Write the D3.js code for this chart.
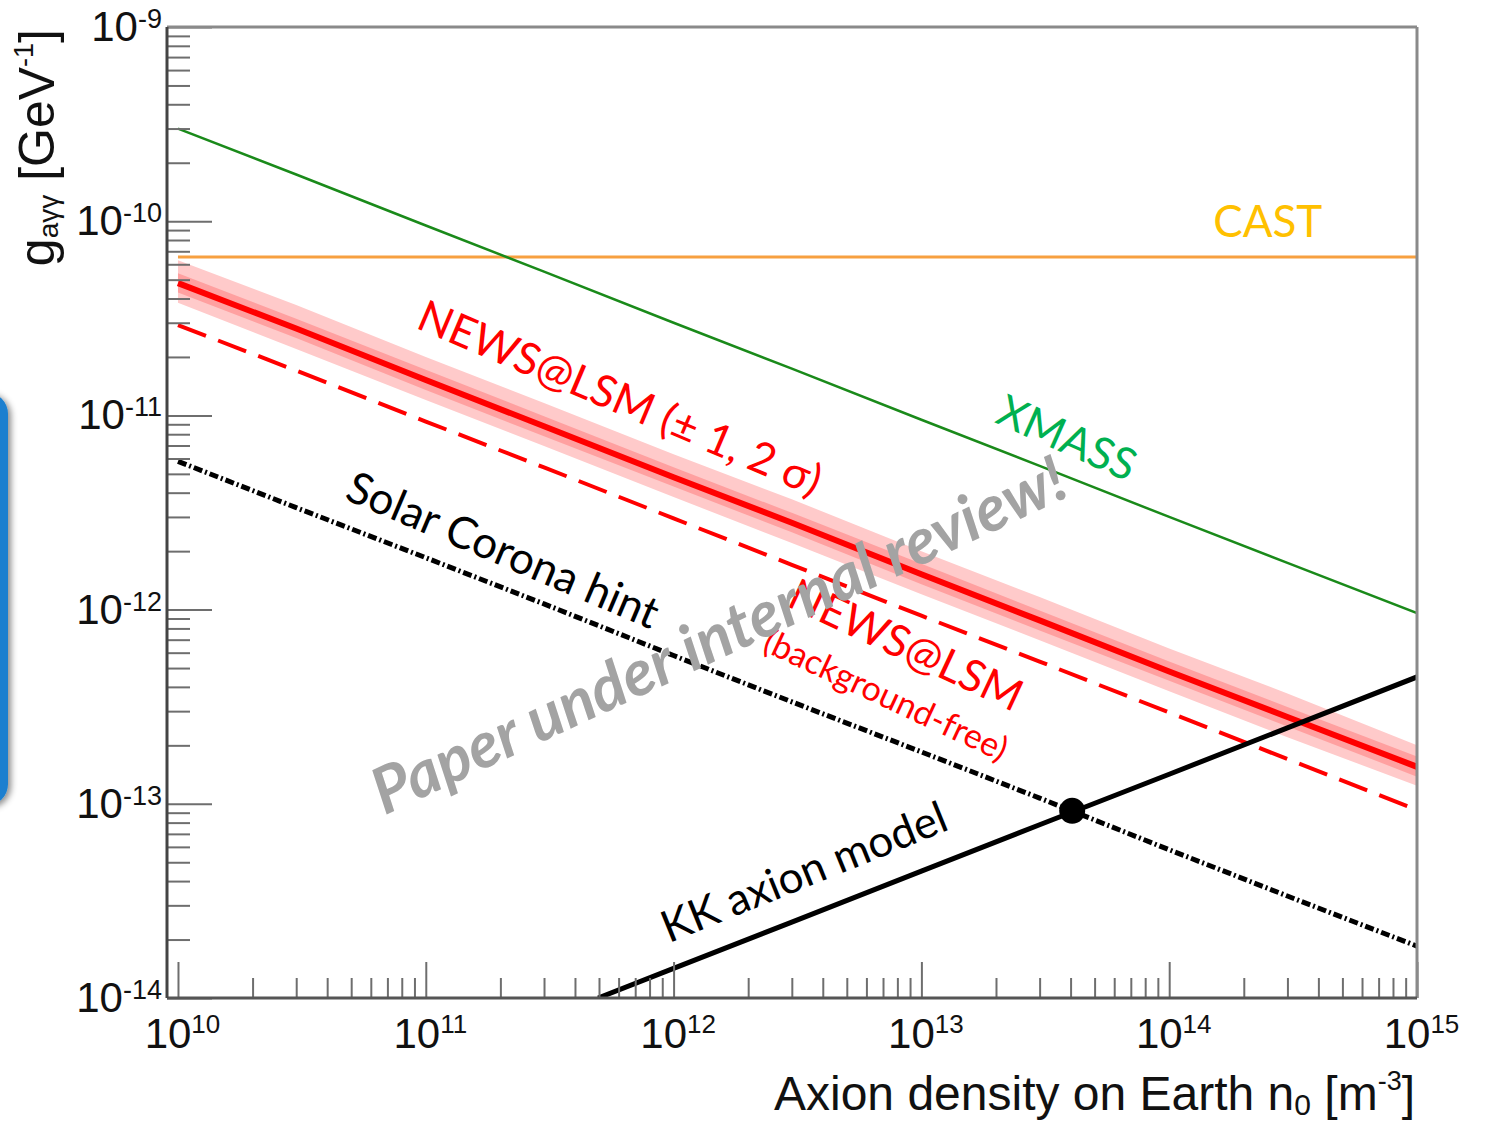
<!DOCTYPE html>
<html>
<head>
<meta charset="utf-8">
<script src="https://cdn.jsdelivr.net/npm/d3@7"></script>
<style>
  html, body { margin: 0; padding: 0; background: #fff; }
  svg { display: block; }
</style>
</head>
<body>
<div id="chart"></div>
<script>
// Axion density on Earth n0 [m^-3] at which the curves are sampled
const density = [1e10, 3e10, 1e11, 3e11, 1e12, 3e12, 1e13, 3e13, 1e14, 3e14, 1e15];

// g_agg limits [GeV^-1]
const xmass        = [3.0e-10, 1.74e-10, 9.5e-11, 5.5e-11, 3.0e-11, 1.74e-11, 9.5e-12, 5.5e-12, 3.0e-12, 1.74e-12, 9.6e-13];
const newsMedian   = [4.8e-11, 2.8e-11, 1.52e-11, 8.8e-12, 4.8e-12, 2.8e-12, 1.52e-12, 8.8e-13, 4.8e-13, 2.8e-13, 1.55e-13];
const news1sUp     = [5.4e-11, 3.15e-11, 1.72e-11, 9.9e-12, 5.4e-12, 3.15e-12, 1.72e-12, 9.9e-13, 5.4e-13, 3.15e-13, 1.75e-13];
const news1sDown   = [4.3e-11, 2.5e-11, 1.35e-11, 7.8e-12, 4.3e-12, 2.5e-12, 1.35e-12, 7.8e-13, 4.3e-13, 2.5e-13, 1.38e-13];
const news2sUp     = [6.3e-11, 3.7e-11, 2.0e-11, 1.16e-11, 6.3e-12, 3.7e-12, 2.0e-12, 1.16e-12, 6.3e-13, 3.7e-13, 2.0e-13];
const news2sDown   = [3.8e-11, 2.2e-11, 1.2e-11, 6.95e-12, 3.8e-12, 2.2e-12, 1.2e-12, 6.95e-13, 3.8e-13, 2.2e-13, 1.24e-13];
const newsBkgFree  = [2.92e-11, 1.7e-11, 9.3e-12, 5.4e-12, 2.95e-12, 1.7e-12, 9.3e-13, 5.4e-13, 2.95e-13, 1.7e-13, 9.3e-14];
const solarCorona  = [5.8e-12, 3.35e-12, 1.85e-12, 1.07e-12, 5.8e-13, 3.35e-13, 1.85e-13, 1.07e-13, 5.8e-14, 3.35e-14, 1.85e-14];
const castLimit    = [[1e10, 6.55e-11], [1e15, 6.55e-11]];

// KK axion model, starts where it leaves the bottom of the frame
const kkDensity = [4.96e11, 1e12, 3e12, 1e13, 3e13, 1e14, 3e14, 1e15];
const kkModel   = [1.0e-14, 1.42e-14, 2.46e-14, 4.5e-14, 7.8e-14, 1.42e-13, 2.46e-13, 4.5e-13];
const kkPoint   = [4.06e13, 9.2e-14];

const xTickExponents = [10, 11, 12, 13, 14, 15];
const yTickExponents = [-14, -13, -12, -11, -10, -9];

// labels placed in data coordinates (n0, g)
const annotations = [
  { text: 'CAST', n: 2.5e14, g: 1.0e-10, angle: 0, color: '#ffc000', size: 44 },
  { text: 'XMASS', n: 3.87e13, g: 7.66e-12, angle: 24, color: '#00b050', size: 44 },
  { text: 'NEWS@LSM (± 1, 2 σ)', n: 6.08e11, g: 1.23e-11, angle: 23, color: '#ff0000', size: 44 },
  { text: 'Solar Corona hint', n: 2.05e11, g: 2.03e-12, angle: 23, color: '#000000', size: 44 },
  { text: 'NEWS@LSM', n: 8.67e12, g: 6.58e-13, angle: 25, color: '#ff0000', size: 44 },
  { text: '(background-free)', n: 7.19e12, g: 3.63e-13, angle: 25, color: '#ff0000', size: 34 },
  { text: 'KK axion model', n: 3.36e12, g: 4.46e-14, angle: -22, color: '#000000', size: 44 }
];
const watermark = { text: 'Paper under internal review!', n: 1.52e12, g: 7.4e-13, angle: -25 };

const W = 1491, H = 1121;
const frame = { left: 167, right: 1417, top: 27, bottom: 998 };

const svg = d3.select('#chart').append('svg')
  .attr('width', W).attr('height', H);

const defs = svg.append('defs');
const shadow = defs.append('filter').attr('id', 'shadow')
  .attr('x', '-50%').attr('y', '-20%').attr('width', '200%').attr('height', '140%');
shadow.append('feDropShadow')
  .attr('dx', 3).attr('dy', 2).attr('stdDeviation', 3)
  .attr('flood-color', '#000').attr('flood-opacity', 0.45);
defs.append('clipPath').attr('id', 'plot-clip')
  .append('rect')
  .attr('x', frame.left).attr('y', frame.top)
  .attr('width', frame.right - frame.left).attr('height', frame.bottom - frame.top);

// blue slide element peeking in from the left edge
svg.append('rect')
  .attr('x', -40).attr('y', 392)
  .attr('width', 48).attr('height', 414)
  .attr('rx', 22)
  .attr('fill', '#1a7fcf')
  .attr('filter', 'url(#shadow)');

const x = d3.scaleLog().domain([9.03e9, 1e15]).range([frame.left, frame.right]);
const y = d3.scaleLog().domain([1e-14, 1e-9]).range([frame.bottom, frame.top]);

const line = d3.line().x(d => x(d[0])).y(d => y(d[1]));
const band = d3.area().x(d => x(d[0])).y0(d => y(d[1])).y1(d => y(d[2]));

const plot = svg.append('g').attr('clip-path', 'url(#plot-clip)');

plot.append('path')
  .datum(density.map((n, i) => [n, news2sDown[i], news2sUp[i]]))
  .attr('d', band).attr('fill', '#ffcaca');
plot.append('path')
  .datum(density.map((n, i) => [n, news1sDown[i], news1sUp[i]]))
  .attr('d', band).attr('fill', '#ffa0a0');

plot.append('path').datum(castLimit).attr('d', line)
  .attr('fill', 'none').attr('stroke', '#f7a040').attr('stroke-width', 3);

plot.append('path').datum(density.map((n, i) => [n, xmass[i]])).attr('d', line)
  .attr('fill', 'none').attr('stroke', '#1a8a1a').attr('stroke-width', 2.5);

plot.append('path').datum(density.map((n, i) => [n, newsBkgFree[i]])).attr('d', line)
  .attr('fill', 'none').attr('stroke', '#ff0000').attr('stroke-width', 4)
  .attr('stroke-dasharray', '30,13');

plot.append('path').datum(density.map((n, i) => [n, newsMedian[i]])).attr('d', line)
  .attr('fill', 'none').attr('stroke', '#ff0000').attr('stroke-width', 6);

plot.append('path').datum(density.map((n, i) => [n, solarCorona[i]])).attr('d', line)
  .attr('fill', 'none').attr('stroke', '#000').attr('stroke-width', 5)
  .attr('stroke-dasharray', '9,3,2,3');

plot.append('path').datum(kkDensity.map((n, i) => [n, kkModel[i]])).attr('d', line)
  .attr('fill', 'none').attr('stroke', '#000').attr('stroke-width', 5);

plot.append('circle')
  .attr('cx', x(kkPoint[0])).attr('cy', y(kkPoint[1]))
  .attr('r', 13).attr('fill', '#000');

// axes
const tickColor = '#6e6e6e';
const xMinor = [];
const yMinor = [];
xTickExponents.slice(0, -1).forEach(e => { for (let k = 2; k < 10; k++) xMinor.push(k * Math.pow(10, e)); });
yTickExponents.slice(0, -1).forEach(e => { for (let k = 2; k < 10; k++) yMinor.push(k * Math.pow(10, e)); });

function styleAxis(g) {
  g.select('.domain').remove();
  g.selectAll('.tick line').attr('stroke', tickColor).attr('stroke-width', 2);
}

svg.append('g')
  .attr('transform', `translate(0,${frame.bottom})`)
  .call(d3.axisBottom(x).tickValues(xMinor).tickSize(-20).tickFormat(''))
  .call(styleAxis);

const xAxis = svg.append('g')
  .attr('transform', `translate(0,${frame.bottom})`)
  .call(d3.axisBottom(x).tickValues(xTickExponents.map(e => Math.pow(10, e)))
    .tickSize(-36).tickPadding(20).tickFormat(d => Math.round(Math.log10(d))))
  .call(styleAxis);

svg.append('g')
  .attr('transform', `translate(${frame.left},0)`)
  .call(d3.axisLeft(y).tickValues(yMinor).tickSize(-23).tickFormat(''))
  .call(styleAxis);

const yAxis = svg.append('g')
  .attr('transform', `translate(${frame.left},0)`)
  .call(d3.axisLeft(y).tickValues(yTickExponents.map(e => Math.pow(10, e)))
    .tickSize(-45).tickPadding(5).tickFormat(d => Math.round(Math.log10(d))))
  .call(styleAxis);

function powerLabels(g, supShift, supSize) {
  g.selectAll('.tick text').each(function() {
    const t = d3.select(this);
    const exp = t.text();
    t.text(null)
      .attr('fill', '#111')
      .attr('font-family', '"Liberation Sans", Arial, sans-serif')
      .attr('font-size', 42);
    t.append('tspan').text('10');
    t.append('tspan').attr('dy', supShift).attr('font-size', supSize).text(exp);
  });
}
powerLabels(xAxis, -15, 26);
powerLabels(yAxis, -13, 27);
xAxis.selectAll('.tick text').attr('dx', 4);

// frame
svg.append('line')
  .attr('x1', frame.left).attr('x2', frame.right)
  .attr('y1', frame.top).attr('y2', frame.top)
  .attr('stroke', '#8a8a8a').attr('stroke-width', 3);
svg.append('line')
  .attr('x1', frame.right).attr('x2', frame.right)
  .attr('y1', frame.top).attr('y2', frame.bottom)
  .attr('stroke', '#8a8a8a').attr('stroke-width', 3);
svg.append('line')
  .attr('x1', frame.left).attr('x2', frame.right)
  .attr('y1', frame.bottom).attr('y2', frame.bottom)
  .attr('stroke', '#555').attr('stroke-width', 3);
svg.append('line')
  .attr('x1', frame.left).attr('x2', frame.left)
  .attr('y1', frame.top).attr('y2', frame.bottom)
  .attr('stroke', '#444').attr('stroke-width', 3);

// axis titles
const xTitle = svg.append('text')
  .attr('x', frame.right - 2).attr('y', 1110)
  .attr('text-anchor', 'end')
  .attr('font-family', '"Liberation Sans", Arial, sans-serif')
  .attr('font-size', 48).attr('fill', '#111');
xTitle.append('tspan').text('Axion density on Earth n');
xTitle.append('tspan').attr('font-size', 30).attr('dy', 5).text('0');
xTitle.append('tspan').attr('dy', -5).text(' [m');
xTitle.append('tspan').attr('font-size', 27).attr('dy', -20).text('-3');
xTitle.append('tspan').attr('dy', 20).text(']');

const yTitle = svg.append('text')
  .attr('transform', `translate(54,${frame.top + 2}) rotate(-90)`)
  .attr('text-anchor', 'end')
  .attr('font-family', '"Liberation Sans", Arial, sans-serif')
  .attr('font-size', 50).attr('fill', '#111');
yTitle.append('tspan').text('g');
yTitle.append('tspan').attr('font-size', 28).attr('dy', 4).text('aγγ');
yTitle.append('tspan').attr('dy', -4).text(' [GeV');
yTitle.append('tspan').attr('font-size', 27).attr('dy', -21).text('-1');
yTitle.append('tspan').attr('dy', 21).text(']');

// curve labels
svg.append('g').selectAll('text')
  .data(annotations)
  .join('text')
  .attr('transform', d => `translate(${x(d.n)},${y(d.g)}) rotate(${d.angle})`)
  .attr('text-anchor', 'middle')
  .attr('dy', '0.35em')
  .attr('font-family', 'Lato, "Open Sans", sans-serif')
  .attr('font-size', d => d.size)
  .attr('fill', d => d.color)
  .text(d => d.text);

svg.append('text')
  .attr('transform', `translate(${x(watermark.n)},${y(watermark.g)}) rotate(${watermark.angle})`)
  .attr('text-anchor', 'middle')
  .attr('dy', '0.35em')
  .attr('font-family', 'Lato, "Open Sans", sans-serif')
  .attr('font-size', 64)
  .attr('font-weight', 'bold')
  .attr('font-style', 'italic')
  .attr('fill', '#a3a3a3')
  .text(watermark.text);
</script>
</body>
</html>
